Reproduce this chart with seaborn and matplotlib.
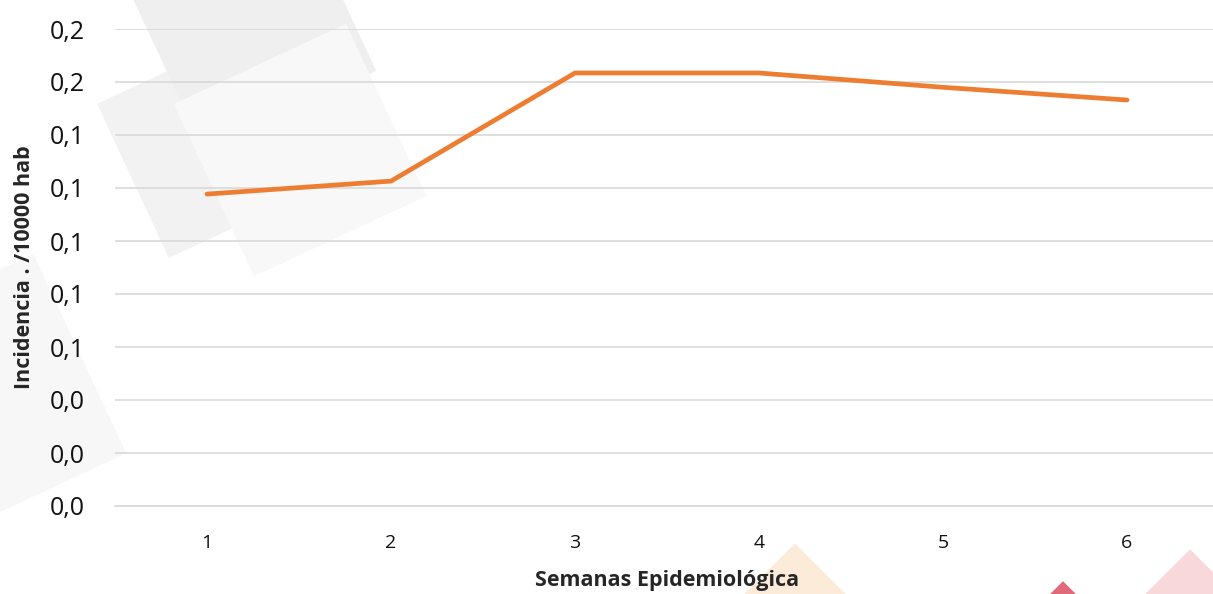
import matplotlib
import matplotlib.pyplot as plt
import numpy as np
import pandas as pd
import seaborn as sns
from matplotlib.patches import Polygon
from matplotlib.ticker import FuncFormatter, MultipleLocator

matplotlib.use('Agg')

# Data
semanas = [1, 2, 3, 4, 5, 6]
incidencia = [0.1177, 0.1226, 0.1634, 0.1634, 0.1580, 0.1532]

x_label = 'Semanas Epidemiológica'
y_label = 'Incidencia . /10000 hab'

W, H = 1213, 594


def deco_square(fig, cx, cy, size, angle, color):
    """Faint rotated square in the background (pixel coords, y down)."""
    a = np.deg2rad(angle)
    pts = np.array([[-1, -1], [1, -1], [1, 1], [-1, 1]]) * size / 2
    rot = np.array([[np.cos(a), -np.sin(a)], [np.sin(a), np.cos(a)]])
    pts = pts @ rot.T + [cx, cy]
    pts = np.column_stack([pts[:, 0] / W, 1 - pts[:, 1] / H])
    fig.patches.append(Polygon(pts, closed=True, transform=fig.transFigure,
                               facecolor=color, edgecolor='none', zorder=-1))


def main():
    data = pd.DataFrame({'semana': [str(s) for s in semanas], 'incidencia': incidencia})

    sns.set_style('white')
    plt.rcParams['font.family'] = ['Open Sans', 'DejaVu Sans']

    fig = plt.figure(figsize=(W / 100, H / 100), dpi=100)

    # background decoration
    deco_square(fig, -20, 400, 220, -25, '#f7f7f7')
    deco_square(fig, 210, 145, 170, -25, '#f2f2f2')
    deco_square(fig, 250, 25, 190, -25, '#efefef')
    deco_square(fig, 300, 150, 190, -25, '#f8f8f8')
    deco_square(fig, 795, 600, 80, 45, '#fcebd8')
    deco_square(fig, 1063, 625, 62, 45, '#e06a7a')
    deco_square(fig, 1190, 620, 100, 45, '#f9d8dc')

    ax = fig.add_axes([115 / W, 1 - 506 / H, (1219 - 115) / W, (506 - 29) / H])
    ax.set_facecolor('none')

    sns.lineplot(data=data, x='semana', y='incidencia', ax=ax, color='#ED7D31',
                 linewidth=3.4, sort=False, solid_capstyle='round', clip_on=False)

    ax.set_xlim(-0.5, 5.5)
    ax.set_ylim(0, 0.18)
    ax.yaxis.set_major_locator(MultipleLocator(0.02))
    ax.yaxis.set_major_formatter(FuncFormatter(lambda v, p: f'{v:.1f}'.replace('.', ',')))
    ax.grid(axis='y', color='#d9d9d9', linewidth=1.2)
    ax.set_axisbelow(True)
    for s in ['top', 'right', 'left']:
        ax.spines[s].set_visible(False)
    ax.spines['bottom'].set_color('#d9d9d9')
    ax.spines['bottom'].set_linewidth(1.2)
    ax.tick_params(axis='y', labelsize=18, length=0, pad=22, colors='#111111')
    ax.tick_params(axis='x', labelsize=14, length=0, pad=20, colors='#111111')

    ax.set_xlabel(x_label, fontsize=15.5, fontweight='bold', labelpad=13)
    ax.set_ylabel(y_label, fontsize=15.5, fontweight='bold', labelpad=10)

    fig.savefig('out.png', dpi=100)
    plt.close(fig)


if __name__ == '__main__':
    main()
